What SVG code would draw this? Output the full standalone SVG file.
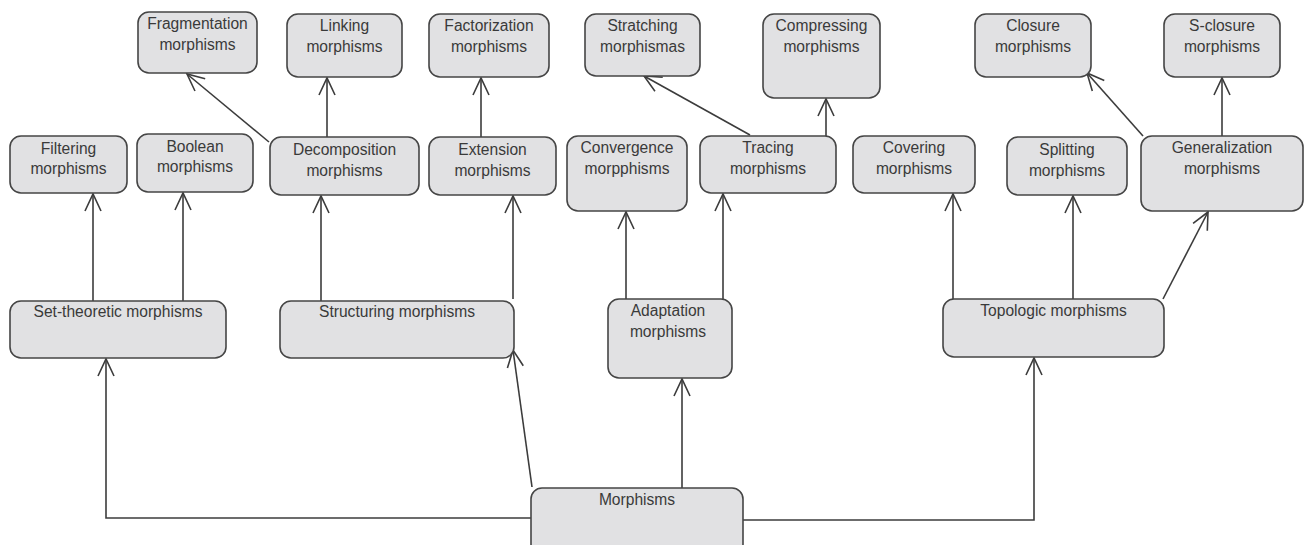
<svg xmlns="http://www.w3.org/2000/svg" width="1309" height="545" viewBox="0 0 1309 545">
  <style>
    .box rect { fill: #e1e1e3; stroke: #454545; stroke-width: 1.6; }
    .box text { font-family: "Liberation Sans", Arial, sans-serif; font-size: 15.6px; fill: #3a3a3a; text-anchor: middle; }
    .edge { fill: none; stroke: #3c3c3c; stroke-width: 1.6; marker-end: url(#open-arrow); }
  </style>
  <defs>
    <marker id="open-arrow" markerUnits="userSpaceOnUse" markerWidth="20" markerHeight="20" viewBox="-18 -10 20 20" refX="0" refY="0" orient="auto">
      <path d="M -17 -8 L 0 0 L -17 8" fill="none" stroke="#3c3c3c" stroke-width="1.6"/>
    </marker>
  </defs>

  <rect width="1309" height="545" fill="#ffffff"/>

  <!-- connectors -->
  <g id="connectors">
    <polyline class="edge" points="531,518 106,518 106,359"/>
    <line class="edge" x1="532" y1="487" x2="513" y2="350"/>
    <line class="edge" x1="682" y1="488" x2="682" y2="379"/>
    <polyline class="edge" points="743,520 1034,520 1034,358"/>

    <line class="edge" x1="93" y1="301" x2="93" y2="194"/>
    <line class="edge" x1="183" y1="301" x2="183" y2="193"/>
    <line class="edge" x1="321" y1="301" x2="321" y2="196"/>
    <line class="edge" x1="513" y1="299" x2="513" y2="196"/>
    <line class="edge" x1="626" y1="299" x2="626" y2="212"/>
    <line class="edge" x1="723" y1="299" x2="723" y2="194"/>
    <line class="edge" x1="953" y1="299" x2="953" y2="194"/>
    <line class="edge" x1="1073" y1="299" x2="1073" y2="196"/>
    <line class="edge" x1="1163" y1="299" x2="1208" y2="212"/>

    <line class="edge" x1="269" y1="142" x2="187" y2="74"/>
    <line class="edge" x1="327" y1="137" x2="327" y2="78"/>
    <line class="edge" x1="481" y1="137" x2="481" y2="78"/>
    <line class="edge" x1="750" y1="135" x2="644" y2="76"/>
    <line class="edge" x1="826" y1="136" x2="826" y2="99"/>
    <line class="edge" x1="1143" y1="136" x2="1087" y2="73"/>
    <line class="edge" x1="1222" y1="136" x2="1222" y2="78"/>
  </g>

  <!-- top row -->
  <g id="fragmentation" class="box">
    <rect x="138" y="12" width="119" height="61" rx="11"/>
    <text x="197.5" y="29">Fragmentation</text>
    <text x="197.5" y="50">morphisms</text>
  </g>
  <g id="linking" class="box">
    <rect x="287" y="14" width="115" height="63" rx="11"/>
    <text x="344.5" y="31">Linking</text>
    <text x="344.5" y="52">morphisms</text>
  </g>
  <g id="factorization" class="box">
    <rect x="429" y="14" width="120" height="63" rx="11"/>
    <text x="489" y="31">Factorization</text>
    <text x="489" y="52">morphisms</text>
  </g>
  <g id="stratching" class="box">
    <rect x="585" y="14" width="115" height="62" rx="11"/>
    <text x="642.5" y="31">Stratching</text>
    <text x="642.5" y="52">morphismas</text>
  </g>
  <g id="compressing" class="box">
    <rect x="763" y="14" width="117" height="84" rx="11"/>
    <text x="821.5" y="31">Compressing</text>
    <text x="821.5" y="52">morphisms</text>
  </g>
  <g id="closure" class="box">
    <rect x="975" y="14" width="116" height="63" rx="11"/>
    <text x="1033" y="31">Closure</text>
    <text x="1033" y="52">morphisms</text>
  </g>
  <g id="s-closure" class="box">
    <rect x="1164" y="14" width="116" height="63" rx="11"/>
    <text x="1222" y="31">S-closure</text>
    <text x="1222" y="52">morphisms</text>
  </g>

  <!-- middle row -->
  <g id="filtering" class="box">
    <rect x="10" y="136" width="117" height="57" rx="11"/>
    <text x="68.5" y="154">Filtering</text>
    <text x="68.5" y="174">morphisms</text>
  </g>
  <g id="boolean" class="box">
    <rect x="137" y="134" width="116" height="58" rx="11"/>
    <text x="195" y="152">Boolean</text>
    <text x="195" y="172">morphisms</text>
  </g>
  <g id="decomposition" class="box">
    <rect x="270" y="137" width="149" height="58" rx="11"/>
    <text x="344.5" y="155">Decomposition</text>
    <text x="344.5" y="176">morphisms</text>
  </g>
  <g id="extension" class="box">
    <rect x="429" y="137" width="127" height="58" rx="11"/>
    <text x="492.5" y="155">Extension</text>
    <text x="492.5" y="176">morphisms</text>
  </g>
  <g id="convergence" class="box">
    <rect x="567" y="136" width="120" height="75" rx="11"/>
    <text x="627" y="153">Convergence</text>
    <text x="627" y="174">morpphisms</text>
  </g>
  <g id="tracing" class="box">
    <rect x="700" y="136" width="136" height="57" rx="11"/>
    <text x="768" y="153">Tracing</text>
    <text x="768" y="174">morphisms</text>
  </g>
  <g id="covering" class="box">
    <rect x="853" y="136" width="122" height="57" rx="11"/>
    <text x="914" y="153">Covering</text>
    <text x="914" y="174">morphisms</text>
  </g>
  <g id="splitting" class="box">
    <rect x="1007" y="137" width="120" height="58" rx="11"/>
    <text x="1067" y="155">Splitting</text>
    <text x="1067" y="176">morphisms</text>
  </g>
  <g id="generalization" class="box">
    <rect x="1141" y="136" width="162" height="75" rx="11"/>
    <text x="1222" y="153">Generalization</text>
    <text x="1222" y="174">morphisms</text>
  </g>

  <!-- lower row -->
  <g id="set-theoretic" class="box">
    <rect x="10" y="301" width="216" height="57" rx="11"/>
    <text x="118" y="317">Set-theoretic morphisms</text>
  </g>
  <g id="structuring" class="box">
    <rect x="280" y="301" width="234" height="57" rx="11"/>
    <text x="397" y="317">Structuring morphisms</text>
  </g>
  <g id="adaptation" class="box">
    <rect x="608" y="299" width="124" height="79" rx="11"/>
    <text x="668" y="316">Adaptation</text>
    <text x="668" y="337">morphisms</text>
  </g>
  <g id="topologic" class="box">
    <rect x="943" y="299" width="221" height="58" rx="11"/>
    <text x="1053.5" y="316">Topologic morphisms</text>
  </g>

  <!-- root -->
  <g id="morphisms" class="box">
    <rect x="531" y="488" width="212" height="67" rx="11"/>
    <text x="637" y="505">Morphisms</text>
  </g>
</svg>
